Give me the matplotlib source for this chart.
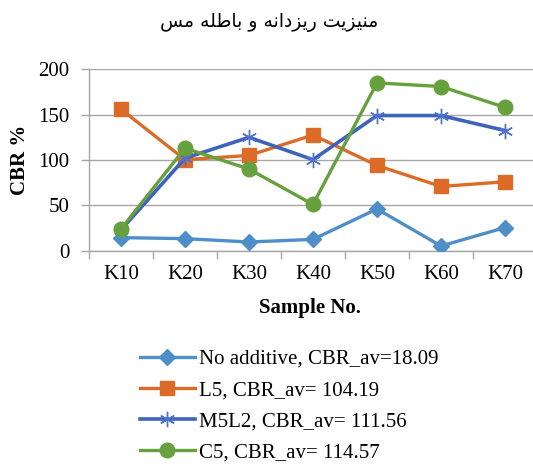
import matplotlib
matplotlib.use("Agg")
import matplotlib.pyplot as plt
from matplotlib.ticker import FixedLocator

categories = ["K10", "K20", "K30", "K40", "K50", "K60", "K70"]
no_additive = [14.4, 13.3, 9.6, 12.5, 46.0, 5.2, 25.5]
l5 = [156.0, 100.4, 105.0, 127.5, 94.0, 70.8, 76.0]
m5l2 = [23.0, 102.0, 125.0, 100.4, 149.0, 149.0, 132.5]
c5 = [24.0, 113.0, 90.0, 51.0, 185.0, 181.0, 158.0]
labels = ["No additive, CBR_av=18.09", "L5, CBR_av= 104.19",
          "M5L2, CBR_av= 111.56", "C5, CBR_av= 114.57"]
yticks = [0, 50, 100, 150, 200]
title_text = "منیزیت ریزدانه و باطله مس"

# minimal Arabic/Persian shaping (matplotlib has no complex text layout)
FORMS = {
    "م": ("\uFEE1", "\uFEE2", "\uFEE3", "\uFEE4"),
    "ن": ("\uFEE5", "\uFEE6", "\uFEE7", "\uFEE8"),
    "ی": ("\uFBFC", "\uFBFD", "\uFBFE", "\uFBFF"),
    "ز": ("\uFEAF", "\uFEB0", None, None),
    "ت": ("\uFE95", "\uFE96", "\uFE97", "\uFE98"),
    "ر": ("\uFEAD", "\uFEAE", None, None),
    "د": ("\uFEA9", "\uFEAA", None, None),
    "ا": ("\uFE8D", "\uFE8E", None, None),
    "ه": ("\uFEE9", "\uFEEA", "\uFEEB", "\uFEEC"),
    "و": ("\uFEED", "\uFEEE", None, None),
    "ب": ("\uFE8F", "\uFE90", "\uFE91", "\uFE92"),
    "ط": ("\uFEC1", "\uFEC2", "\uFEC3", "\uFEC4"),
    "ل": ("\uFEDD", "\uFEDE", "\uFEDF", "\uFEE0"),
    "س": ("\uFEB1", "\uFEB2", "\uFEB3", "\uFEB4"),
}

def shape(text):
    out = []
    for i, ch in enumerate(text):
        if ch not in FORMS:
            out.append(ch)
            continue
        prev = text[i - 1] if i > 0 else " "
        nxt = text[i + 1] if i + 1 < len(text) else " "
        join_prev = prev in FORMS and FORMS[prev][2] is not None
        join_next = nxt in FORMS and FORMS[ch][2] is not None
        iso, fin, ini, med = FORMS[ch]
        if join_prev and join_next:
            out.append(med)
        elif join_prev:
            out.append(fin)
        elif join_next:
            out.append(ini)
        else:
            out.append(iso)
    return "".join(out)[::-1]

plt.rcParams["font.family"] = ["Liberation Serif", "DejaVu Serif"]

W, H = 533, 465
fig = plt.figure(figsize=(W / 100, H / 100), dpi=100)
ax = fig.add_axes([89 / W, 1 - 250.7 / H, (533 - 89) / W, (250.7 - 69.3) / H])

x = list(range(len(categories)))
c_na = "#4f8fc9"
c_l5 = "#dc6b28"
c_m5 = "#3d64b8"
c_c5 = "#66a13e"

ax.plot(x, no_additive, color=c_na, lw=2.4, marker="D", ms=8, label=labels[0], zorder=3)
ax.plot(x, l5, color=c_l5, lw=2.4, marker="s", ms=10.5, label=labels[1], zorder=3)
ax.plot(x, m5l2, color=c_m5, lw=2.6, marker=(6, 2, 0), ms=11, mew=1.0,
        mec="#4f72cc", label=labels[2], zorder=4)
ax.plot(x, c5, color=c_c5, lw=2.4, marker="o", ms=10.5, label=labels[3], zorder=5)

ax.set_xlim(-0.5, (533 - 89) / 64 - 0.5)
ax.set_ylim(0, 200)
ax.set_yticks(yticks)
ax.set_xticks(x)
ax.set_xticklabels(categories)
ax.xaxis.set_minor_locator(FixedLocator([i - 0.5 for i in range(len(categories) + 1)]))
ax.tick_params(axis="x", which="major", length=0, pad=10, labelsize=15)
ax.tick_params(axis="x", which="minor", length=6, color="#a6a6a6", width=1)
ax.tick_params(axis="y", length=6, color="#a6a6a6", width=1, labelsize=15, pad=8)
ax.grid(axis="y", color="#a6a6a6", lw=1)
ax.set_axisbelow(True)
for s in ["top", "right"]:
    ax.spines[s].set_visible(False)
for s in ["left", "bottom"]:
    ax.spines[s].set_color("#a6a6a6")
    ax.spines[s].set_linewidth(1)

ax.set_ylabel("CBR %", fontsize=15, fontweight="bold")
ax.yaxis.set_label_coords((30 - 89) / (533 - 89), 0.5)
ax.set_xlabel("Sample No.", fontsize=15, fontweight="bold")
ax.xaxis.set_label_coords((310 - 89) / (533 - 89), -(298 - 250.7) / (250.7 - 69.3))

fig.text(269 / W, 1 - 23 / H, shape(title_text), ha="center", va="center",
         fontsize=13.5, family=["DejaVu Sans"])

fig.legend(loc="upper left", bbox_to_anchor=(132 / W, 1 - 341 / H), frameon=False,
           fontsize=15, handlelength=2.6, handletextpad=0.2, labelspacing=0.56,
           borderaxespad=0)

fig.savefig("out.png", dpi=100)
